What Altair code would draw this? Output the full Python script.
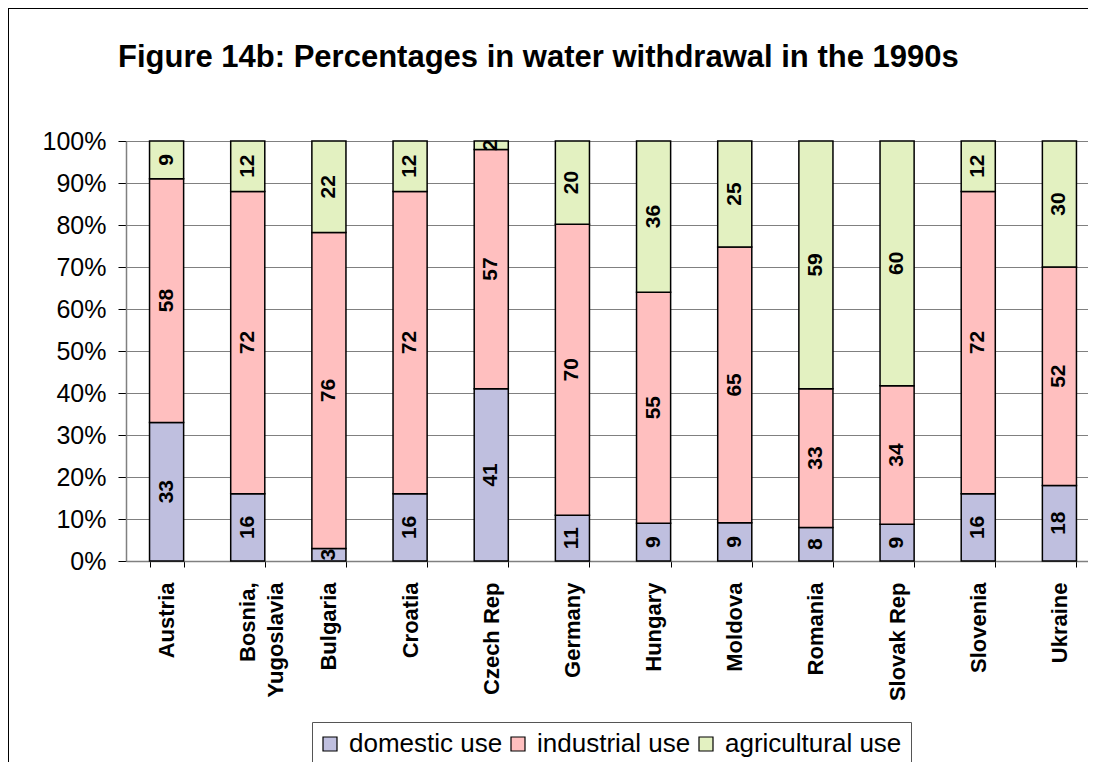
import altair as alt
import pandas as pd

countries = ["Austria", "Bosnia, Yugoslavia", "Bulgaria", "Croatia", "Czech Rep",
             "Germany", "Hungary", "Moldova", "Romania", "Slovak Rep", "Slovenia", "Ukraine"]
domestic = [33, 16, 3, 16, 41, 11, 9, 9, 8, 9, 16, 18]
industrial = [58, 72, 76, 72, 57, 70, 55, 65, 33, 34, 72, 52]
agricultural = [9, 12, 22, 12, 2, 20, 36, 25, 59, 60, 12, 30]
uses = ["domestic use", "industrial use", "agricultural use"]
colors = ["#BFBFDF", "#FFBFBF", "#E3F1C1"]
y_ticks = [0, 0.1, 0.2, 0.3, 0.4, 0.5, 0.6, 0.7, 0.8, 0.9, 1.0]

rows = []
for i, c in enumerate(countries):
    vals = [domestic[i], industrial[i], agricultural[i]]
    total = sum(vals)
    cum = 0
    for k, (u, v) in enumerate(zip(uses, vals)):
        mid = (cum + v / 2) / total
        cum += v
        rows.append({"country": c, "use": u, "order": k, "value": v, "mid": mid})
df = pd.DataFrame(rows)

FONT = "Liberation Sans"

x_enc = alt.X("country:N", sort=countries, title=None,
              scale=alt.Scale(paddingInner=0.58, paddingOuter=0.29, range=[0, 974]),
              axis=alt.Axis(labelAngle=270, labelFont=FONT, labelFontSize=22,
                            labelFontWeight="bold", labelColor="black",
                            labelLineHeight=28, labelPadding=15,
                            labelExpr="datum.label == 'Bosnia, Yugoslavia' ? ['Bosnia,', 'Yugoslavia'] : datum.label",
                            tickBand="extent", tickSize=6, tickColor="black",
                            domainColor="#808080", domainWidth=1.5, grid=False))

bars = alt.Chart(df).mark_bar(stroke="black", strokeWidth=1.5).encode(
    x=x_enc,
    y=alt.Y("value:Q", stack="normalize", title=None,
            scale=alt.Scale(domain=[0, 1], nice=False),
            axis=alt.Axis(values=y_ticks, format=".0%", labelFont=FONT, labelFontSize=25,
                          labelColor="black", labelPadding=12, tickSize=8,
                          tickColor="black", domainColor="#808080", domainWidth=1.5,
                          grid=True, gridColor="#808080", gridWidth=1)),
    color=alt.Color("use:N", sort=uses, title=None,
                    scale=alt.Scale(domain=uses, range=colors),
                    legend=alt.Legend(orient="none", legendX=186, legendY=581,
                                      direction="horizontal", symbolType="square",
                                      symbolSize=196, symbolStrokeColor="black",
                                      symbolStrokeWidth=1.2, symbolOffset=-4,
                                      labelFont=FONT, labelFontSize=26,
                                      labelColor="black", labelOffset=6,
                                      columnPadding=5, padding=9,
                                      strokeColor="#555555", labelLimit=400)),
    order=alt.Order("order:Q"),
)

labels = alt.Chart(df).mark_text(angle=270, font=FONT, fontSize=21, fontWeight="bold",
                                 align="center", baseline="middle", color="black").encode(
    x=alt.X("country:N", sort=countries),
    y=alt.Y("mid:Q", scale=alt.Scale(domain=[0, 1], nice=False)),
    text=alt.Text("value:Q"),
)

frame_left = alt.Chart(df).mark_rule(color="black", strokeWidth=1).encode(
    x=alt.value(-117.5), y=alt.value(-132.5), y2=alt.value(700))
frame_top = alt.Chart(df).mark_rule(color="black", strokeWidth=1).encode(
    x=alt.value(-117.5), x2=alt.value(1000), y=alt.value(-132.5))

chart = alt.layer(bars, labels, frame_left, frame_top).properties(
    width=962, height=420,
    title=alt.TitleParams("Figure 14b: Percentages in water withdrawal in the 1990s",
                          font=FONT, fontSize=31, fontWeight="bold", color="black",
                          anchor="start", frame="group", dx=-8, offset=0, dy=90,
                          baseline="alphabetic"),
    autosize=alt.AutoSizeParams(type="none"),
    padding={"left": 118, "top": 133, "right": 0, "bottom": 201},
).configure_view(stroke=None).configure(background="white")

chart.save("out.html", embed_options={"renderer": "svg", "actions": False})
